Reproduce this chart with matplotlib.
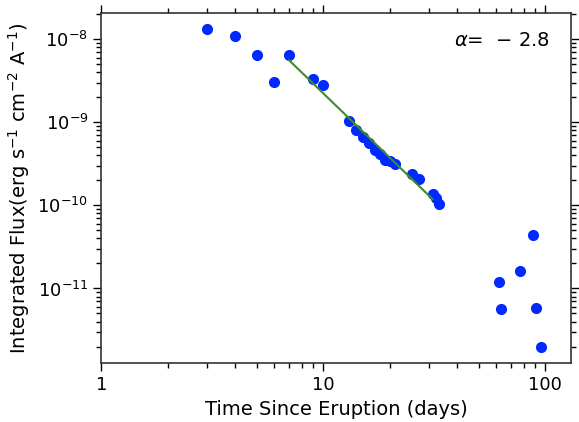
import matplotlib
matplotlib.use('Agg')
import matplotlib.pyplot as plt
from matplotlib import ticker
import numpy as np

# days since eruption and integrated flux (erg s^-1 cm^-2 A^-1)
days = [3, 4, 5, 6, 7, 9, 10, 13, 14, 15, 16, 17, 18, 19, 20, 21, 25, 27,
        31, 32, 33, 61.8, 63.1, 76.5, 88.2, 90.7, 95.6]
flux = [1.33e-8, 1.10e-8, 6.5e-9, 3.07e-9, 6.5e-9, 3.37e-9, 2.8e-9, 1.05e-9,
        8.2e-10, 6.6e-10, 5.7e-10, 4.7e-10, 4.2e-10, 3.57e-10, 3.4e-10,
        3.17e-10, 2.38e-10, 2.06e-10, 1.38e-10, 1.22e-10, 1.05e-10,
        1.2e-11, 5.63e-12, 1.61e-11, 4.36e-11, 5.8e-12, 1.95e-12]

# power-law fit window
fit_start = 7
fit_end = 31
alpha_label = r'$\alpha$=  $-$ 2.8'

days = np.array(days)
flux = np.array(flux)

fig = plt.figure(figsize=(5.79, 4.22), dpi=100)
ax = fig.add_axes([0.1753, 0.140, 0.8104, 0.829])

ax.plot(days, flux, 'o', color='#0028ff', markersize=7, zorder=2)

mask = (days >= fit_start) & (days <= 33)
slope, icpt = np.polyfit(np.log10(days[mask]), np.log10(flux[mask]), 1)
t_fit = days[(days >= fit_start) & (days <= fit_end)]
ax.plot(t_fit, 10 ** (icpt + slope * np.log10(t_fit)), color='#3c8c2c',
        linewidth=1.5, zorder=3)

ax.set_xscale('log')
ax.set_yscale('log')
ax.set_xlim(1, 130)
ax.set_ylim(1.27e-12, 2.07e-8)

ax.xaxis.set_major_formatter(ticker.FuncFormatter(lambda x, p: '{:g}'.format(x)))
ax.tick_params(which='both', direction='out', top=True, right=True,
               labelsize=13, width=1)
ax.tick_params(which='major', length=6)
ax.tick_params(which='minor', length=3.5)
for s in ax.spines.values():
    s.set_linewidth(1.2)
    s.set_color('#333333')

ax.set_xlabel('Time Since Eruption (days)', fontsize=14)
ax.set_ylabel(r'Integrated Flux(erg s$^{-1}$ cm$^{-2}$ A$^{-1}$)', fontsize=14)

ax.text(0.954, 0.923, alpha_label, transform=ax.transAxes, ha='right',
        va='center', fontsize=14)

fig.savefig('out.png')
